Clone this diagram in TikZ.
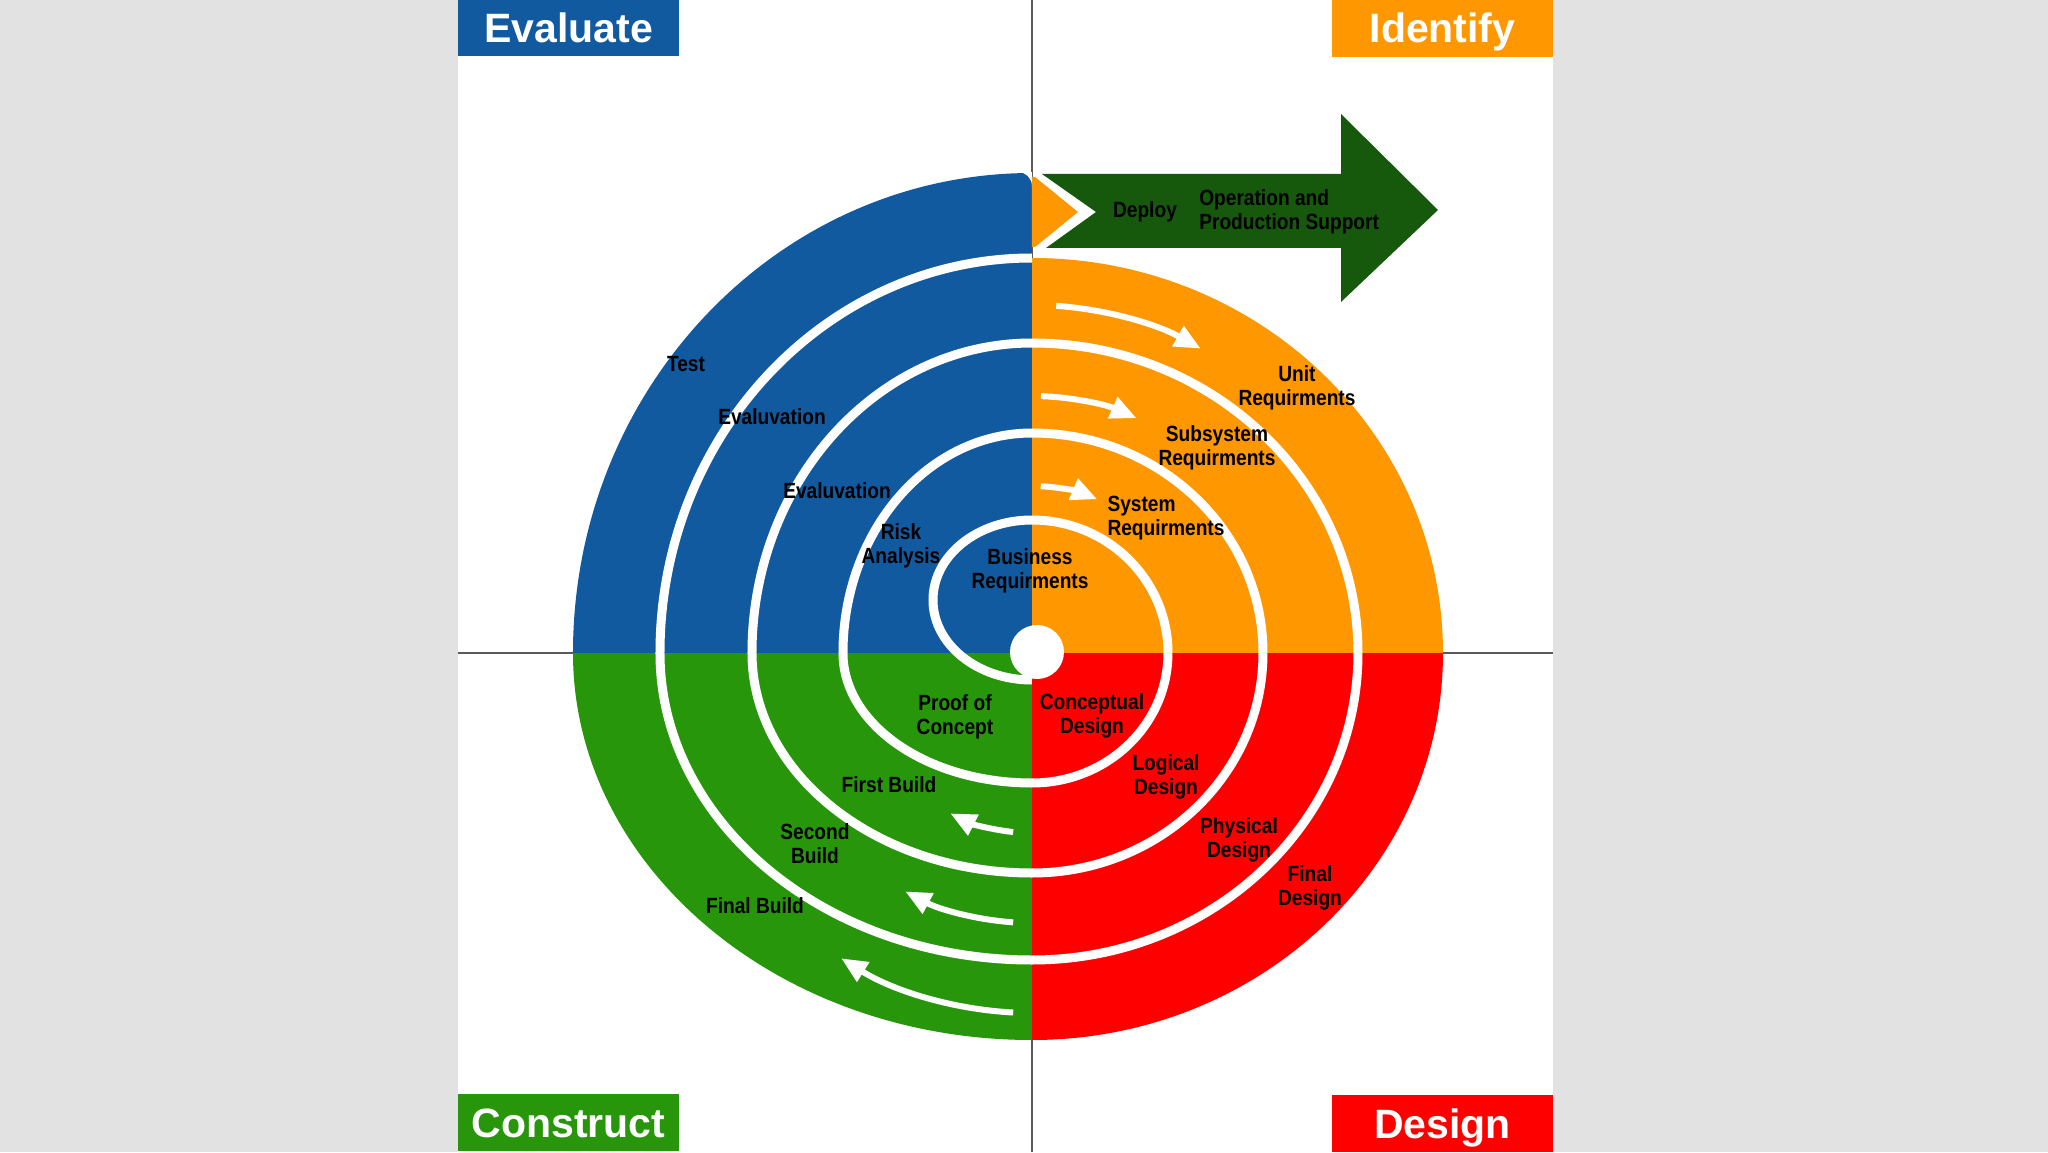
\documentclass[tikz,border=0pt]{standalone}
\usepackage{tikz}
\usepackage{color}
\usepackage{fontspec}
\setmainfont{Liberation Sans}
\newfontfamily\lblfont{Liberation Sans}[FakeStretch=0.87]
\usetikzlibrary{arrows.meta}
\usetikzlibrary{positioning}

\definecolor{evalblue}{RGB}{18,90,160}
\definecolor{identorange}{RGB}{255,152,0}
\definecolor{designred}{RGB}{255,0,0}
\definecolor{buildgreen}{RGB}{40,150,10}
\definecolor{deploygreen}{RGB}{22,88,12}
\definecolor{sidegray}{RGB}{226,226,226}
\definecolor{axisgray}{RGB}{90,90,90}

\begin{document}
\begin{tikzpicture}[x=1pt,y=1pt,
  corner/.style={rectangle,minimum width=221pt,minimum height=57pt,inner sep=0pt,text height=29pt,text depth=0pt,text=white,font=\fontsize{41}{44}\selectfont\bfseries},
  lbl/.style={inner sep=1pt,align=center,text=black,font=\lblfont\fontsize{22}{24}\selectfont\bfseries},
  flow/.style={white,line width=6pt,-{Triangle[length=26pt,width=22pt]}},
  axisline/.style={axisgray,line width=1.5pt}]
\useasboundingbox (-1032,-499) rectangle (1016,653);
\fill[sidegray] (-1032,-499) rectangle (1016,653);
\fill[white] (-574,-499) rectangle (521,653);
\draw[axisline] (0,-499) -- (0,653);
\draw[axisline] (-574,0) -- (521,0);

\begin{scope}
\clip (0,395) arc[start angle=90,end angle=0,x radius=411,y radius=395]
  arc[start angle=360,end angle=270,x radius=411,y radius=387]
  arc[start angle=270,end angle=180,x radius=459,y radius=387]
  arc[start angle=180,end angle=90,x radius=459,y radius=480] -- cycle;
\fill[identorange] (0,0) rectangle (500,500);
\fill[designred] (0,0) rectangle (500,-500);
\fill[buildgreen] (0,0) rectangle (-500,-500);
\fill[evalblue] (0,0) rectangle (-500,500);
\end{scope}
\fill[white] (0,481) -- (-14,481) arc[start angle=90,end angle=0,radius=14] -- cycle;

\draw[white,line width=9pt] (0,-27)
  arc[start angle=270,end angle=90,x radius=99,y radius=80]
  arc[start angle=90,end angle=0,x radius=136,y radius=133]
  arc[start angle=360,end angle=270,x radius=136,y radius=130]
  arc[start angle=270,end angle=180,x radius=189,y radius=130]
  arc[start angle=180,end angle=90,x radius=189,y radius=220]
  arc[start angle=90,end angle=0,x radius=231,y radius=220]
  arc[start angle=360,end angle=270,x radius=231,y radius=220]
  arc[start angle=270,end angle=180,x radius=280,y radius=220]
  arc[start angle=180,end angle=90,x radius=280,y radius=310]
  arc[start angle=90,end angle=0,x radius=326,y radius=310]
  arc[start angle=360,end angle=270,x radius=326,y radius=307]
  arc[start angle=270,end angle=180,x radius=372,y radius=307]
  arc[start angle=180,end angle=90,x radius=372,y radius=395];
\fill[white] (5,1) circle (27);

\draw[flow] (86:348) arc[start angle=86,end angle=61,radius=348];
\draw[flow] (88:257) arc[start angle=88,end angle=66,radius=257];
\draw[flow] (87:167) arc[start angle=87,end angle=67,radius=167];
\draw[flow] (-96:180) arc[start angle=-96,end angle=-117,radius=180];
\draw[flow] (-94:270) arc[start angle=-94,end angle=-118,radius=270];
\draw[flow] (-93:360) arc[start angle=-93,end angle=-122,radius=360];

\fill[deploygreen] (10,479) -- (309,479) -- (309,539) -- (406,443) -- (309,351) -- (309,405) -- (14,405) -- (64,441) -- cycle;
\fill[identorange] (0,476) -- (3,476) -- (46,441) -- (3,406) -- (0,406) -- cycle;

\node[corner,fill=evalblue] (evaluate) at (-463.5,625) {Evaluate};
\node[corner,fill=identorange] (identify) at (410.5,624.5) {Identify};
\node[corner,fill=buildgreen] (construct) at (-463.5,-469.5) {Construct};
\node[corner,fill=designred] (design) at (410.5,-470.5) {Design};

\node[lbl] (test) at (-346,289) {Test};
\node[lbl] (evaltop) at (-260,236) {Evaluvation};
\node[lbl] (evalmid) at (-195,162) {Evaluvation};
\node[lbl] (risk) at (-131,107) {Risk\\Analysis};
\node[lbl] (business) at (-2,82) {Business\\Requirments};
\node[lbl] (unit) at (265,265) {Unit\\Requirments};
\node[lbl] (subsystem) at (185,205) {Subsystem\\Requirments};
\node[lbl,align=left] (system) at (134,135) {System\\Requirments};
\node[lbl] (conceptual) at (60,-63) {Conceptual\\Design};
\node[lbl] (logical) at (134,-124) {Logical\\Design};
\node[lbl] (physical) at (207,-187) {Physical\\Design};
\node[lbl] (finaldesign) at (278,-235) {Final\\Design};
\node[lbl] (proof) at (-77,-64) {Proof of\\Concept};
\node[lbl] (firstbuild) at (-143,-132) {First Build};
\node[lbl] (secondbuild) at (-217,-191) {Second\\Build};
\node[lbl] (finalbuild) at (-277,-253) {Final Build};
\node[lbl] (deploy) at (113,441) {Deploy};
\node[lbl,align=left,right=20pt of deploy] (operation) {Operation and\\Production Support};
\end{tikzpicture}
\end{document}
